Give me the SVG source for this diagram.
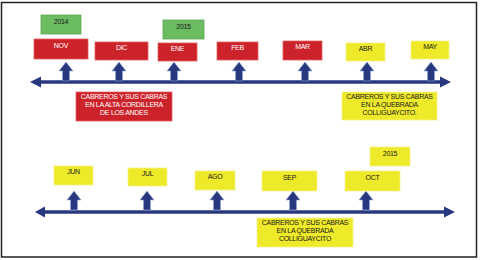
<svg xmlns="http://www.w3.org/2000/svg" width="480" height="260" viewBox="0 0 480 260">
<defs>
<style>
.t{font-family:"Liberation Sans",Arial,sans-serif;font-size:7px;text-anchor:middle;letter-spacing:-0.3px}
.red{fill:#cc2229;stroke:#e06060;stroke-width:0.8}
.grn{fill:#6cbc62;stroke:#5aa650;stroke-width:0.8}
.yel{fill:#eeea2a;stroke:#f4f08a;stroke-width:0.8}
.w{fill:#ffffff}
.k{fill:#1a1a1a}
.ln{stroke:#28387f;stroke-width:3.5}
.hd{fill:#28387f}
.ar{fill:#28387f;stroke:#8fa6d6;stroke-width:0.6}
</style>
<path id="up" d="M0,-19 L7,-10 L3.5,-10 L3.5,0 L-3.5,0 L-3.5,-10 L-7,-10 Z"/>
</defs>
<rect x="1.5" y="2.5" width="475" height="254.5" fill="#ffffff" stroke="#222222" stroke-width="1.5"/>
<g id="connectors">
<line class="ln" x1="38" y1="82" x2="441" y2="82"/>
<path class="hd" d="M30,82 L41,76.5 L41,87.5 Z"/>
<path class="hd" d="M451,82 L440,76.5 L440,87.5 Z"/>
<line class="ln" x1="42" y1="212" x2="446" y2="212"/>
<path class="hd" d="M35,212 L45,206.5 L45,217.5 Z"/>
<path class="hd" d="M455,212 L444,206.5 L444,217.5 Z"/>
<use href="#up" class="ar" x="66" y="81"/>
<use href="#up" class="ar" x="119" y="81"/>
<use href="#up" class="ar" x="174" y="81"/>
<use href="#up" class="ar" x="239" y="81"/>
<use href="#up" class="ar" x="305" y="81"/>
<use href="#up" class="ar" x="367" y="81"/>
<use href="#up" class="ar" x="431" y="81"/>
<use href="#up" class="ar" x="74" y="210"/>
<use href="#up" class="ar" x="147" y="210"/>
<use href="#up" class="ar" x="217" y="210"/>
<use href="#up" class="ar" x="293" y="210"/>
<use href="#up" class="ar" x="366" y="210"/>
</g>
<g id="y2014a"><rect class="grn" x="41" y="15" width="40" height="19"/><text class="t k" x="61" y="24">2014</text></g>
<g id="y2015a"><rect class="grn" x="163" y="20" width="41" height="19"/><text class="t k" x="183.5" y="29">2015</text></g>
<g id="nov"><rect class="red" x="34" y="39" width="54" height="20" stroke="#e8803a"/><text class="t w" x="61" y="48">NOV</text></g>
<g id="dic"><rect class="red" x="95" y="42" width="53" height="18"/><text class="t w" x="121.5" y="50">DIC</text></g>
<g id="ene"><rect class="red" x="158" y="43" width="39" height="18"/><text class="t w" x="177.5" y="51">ENE</text></g>
<g id="feb"><rect class="red" x="217" y="42" width="41" height="18"/><text class="t w" x="237.5" y="50">FEB</text></g>
<g id="mar"><rect class="red" x="283" y="41" width="39" height="19"/><text class="t w" x="302.5" y="49">MAR</text></g>
<g id="abr"><rect class="yel" x="346" y="43" width="39" height="18"/><text class="t k" x="365.5" y="51">ABR</text></g>
<g id="may"><rect class="yel" x="411" y="41" width="38" height="18"/><text class="t k" x="430" y="49">MAY</text></g>
<g id="callout1"><rect class="red" x="76" y="92" width="96" height="29"/>
<text class="t w" x="124" y="99">CABREROS Y SUS CABRAS</text>
<text class="t w" x="124" y="107">EN LA ALTA CORDILLERA</text>
<text class="t w" x="124" y="115">DE LOS ANDES</text></g>
<g id="callout2"><rect class="yel" x="342" y="92" width="95" height="28" stroke="#9a9a30"/>
<text class="t k" x="389.5" y="99">CABREROS Y SUS CABRAS</text>
<text class="t k" x="389.5" y="107">EN LA QUEBRADA</text>
<text class="t k" x="389.5" y="115">COLLIGUAYCITO.</text></g>
<g id="jun"><rect class="yel" x="54" y="166" width="39" height="19"/><text class="t k" x="73.5" y="174">JUN</text></g>
<g id="jul"><rect class="yel" x="128" y="168" width="39" height="18"/><text class="t k" x="147.5" y="176">JUL</text></g>
<g id="ago"><rect class="yel" x="195" y="171" width="40" height="19"/><text class="t k" x="215" y="179">AGO</text></g>
<g id="sep"><rect class="yel" x="262" y="171" width="55" height="20"/><text class="t k" x="289.5" y="180">SEP</text></g>
<g id="oct"><rect class="yel" x="345" y="171" width="55" height="20"/><text class="t k" x="372.5" y="180">OCT</text></g>
<g id="y2015b"><rect class="yel" x="370" y="147" width="40" height="19"/><text class="t k" x="390" y="156">2015</text></g>
<g id="callout3"><rect class="yel" x="257" y="218" width="96" height="29" stroke="#b8a040"/>
<text class="t k" x="305" y="225">CABREROS Y SUS CABRAS</text>
<text class="t k" x="305" y="233">EN LA QUEBRADA</text>
<text class="t k" x="305" y="241">COLLIGUAYCITO</text></g>
</svg>
